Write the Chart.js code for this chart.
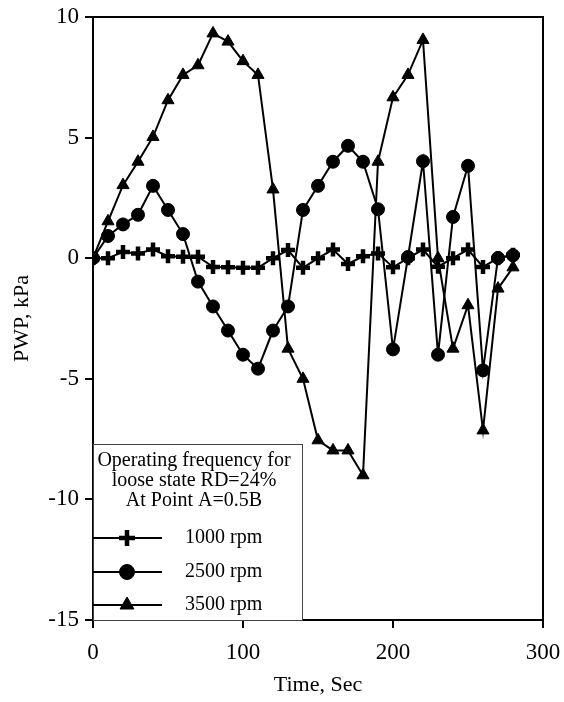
<!DOCTYPE html>
<html>
<head>
<meta charset="utf-8">
<script src="https://cdn.jsdelivr.net/npm/chart.js"></script>
<style>
  html, body { margin: 0; padding: 0; background: #fff; }
  #wrap { width: 564px; height: 702px; }
</style>
</head>
<body>
<div id="wrap"><canvas id="pwpChart" width="564" height="702"></canvas></div>
<script>
// Time, Sec
const times = [0, 10, 20, 30, 40, 50, 60, 70, 80, 90, 100, 110, 120, 130, 140,
               150, 160, 170, 180, 190, 200, 210, 220, 230, 240, 250, 260, 270, 280];

// PWP, kPa
const rpm1000 = [0, 0, 0.26, 0.2, 0.36, 0.08, 0.06, 0.06, -0.36, -0.38, -0.4, -0.4, 0, 0.34, -0.4,
                 0, 0.36, -0.24, 0.08, 0.2, -0.38, 0, 0.36, -0.35, 0, 0.36, -0.36, 0, 0.14];
const rpm2500 = [0, 0.92, 1.4, 1.8, 3.0, 2.0, 1.0, -0.97, -2.0, -3.0, -4.0, -4.58, -3.0, -2.0, 2.0,
                 3.0, 4.0, 4.66, 4.0, 2.03, -3.78, 0.05, 4.02, -4.0, 1.71, 3.83, -4.65, 0.01, 0.12];
const rpm3500 = [0, 1.53, 3.03, 4.0, 5.03, 6.55, 7.6, 8.0, 9.32, 8.98, 8.17, 7.6, 2.85, -3.75, -5.0,
                 -7.55, -7.97, -7.97, -9.0, 4.0, 6.67, 7.6, 9.05, 0, -3.75, -1.95, -7.14, -1.26, -0.38];

const seriesLabels = ['1000 rpm', '2500 rpm', '3500 rpm'];
const legendTitle = ['Operating frequency for', 'loose state RD=24%', 'At Point A=0.5B'];
const xTicks = [0, 100, 200, 300];
const yTicks = [-15, -10, -5, 0, 5, 10];

const serif = '"Liberation Serif", "Times New Roman", serif';

function toPoints(ys) {
    return times.map((t, i) => ({ x: t, y: ys[i] }));
}

function makeSet(label, ys, style, radius, bw) {
    return {
        label: label,
        data: toPoints(ys),
        borderColor: '#000',
        borderWidth: 2,
        backgroundColor: '#000',
        pointStyle: style,
        pointRadius: radius,
        pointBorderWidth: bw,
        pointBackgroundColor: '#000',
        pointBorderColor: '#000',
        tension: 0,
        fill: false
    };
}

// frame on the top and right, plus the boxed legend in the lower left
const framePlugin = {
    id: 'frameAndLegend',
    afterDatasetsDraw(chart) {
        const ctx = chart.ctx;
        const a = chart.chartArea;
        ctx.save();
        ctx.strokeStyle = '#000';
        ctx.lineWidth = 2;
        ctx.beginPath();
        ctx.moveTo(a.left, a.top);
        ctx.lineTo(a.right, a.top);
        ctx.lineTo(a.right, a.bottom);
        ctx.stroke();

        // legend box
        const bx = a.left, by = 444, bw = 209, bh = a.bottom - 444;
        ctx.fillStyle = '#fff';
        ctx.fillRect(bx, by, bw, bh);
        ctx.lineWidth = 1;
        ctx.strokeStyle = '#444';
        ctx.strokeRect(bx + 0.5, by + 0.5, bw, bh);

        ctx.fillStyle = '#000';
        ctx.font = '20px ' + serif;
        ctx.textAlign = 'center';
        ctx.textBaseline = 'middle';
        legendTitle.forEach((line, i) => ctx.fillText(line, bx + 101, 461 + i * 20));

        const rowY = [538, 572, 605];
        chart.data.datasets.forEach((ds, i) => {
            const y = rowY[i];
            ctx.strokeStyle = '#000';
            ctx.lineWidth = 2;
            ctx.beginPath();
            ctx.moveTo(bx, y);
            ctx.lineTo(bx + 69, y);
            ctx.stroke();
            ctx.fillStyle = '#000';
            ctx.lineWidth = ds.pointBorderWidth;
            Chart.helpers.drawPoint(ctx, {
                pointStyle: ds.pointStyle,
                radius: ds.pointRadius + 1,
                rotation: 0,
                borderWidth: ds.pointBorderWidth
            }, bx + 34, y);
            ctx.fillStyle = '#000';
            ctx.textAlign = 'left';
            ctx.fillText(ds.label, bx + 92, y);
        });
        ctx.restore();
    }
};

const ctx = document.getElementById('pwpChart').getContext('2d');
new Chart(ctx, {
    type: 'line',
    data: {
        datasets: [
            makeSet(seriesLabels[0], rpm1000, 'cross', 7, 4.5),
            makeSet(seriesLabels[1], rpm2500, 'circle', 6.5, 1),
            makeSet(seriesLabels[2], rpm3500, 'triangle', 7, 1)
        ]
    },
    options: {
        responsive: false,
        animation: false,
        devicePixelRatio: 1,
        layout: { padding: { top: 17, right: 21, left: 0, bottom: 0 } },
        plugins: {
            legend: { display: false },
            tooltip: { enabled: false }
        },
        scales: {
            x: {
                type: 'linear',
                min: 0,
                max: 300,
                afterFit(scale) {
                    scale.height = 82;
                    scale.paddingLeft = 0;
                    scale.paddingRight = 0;
                },
                afterBuildTicks(scale) { scale.ticks = xTicks.map(v => ({ value: v })); },
                border: { display: true, color: '#000', width: 2 },
                grid: { display: true, drawOnChartArea: false, drawTicks: true, tickLength: 8, color: '#000', lineWidth: 2 },
                ticks: { color: '#000', font: { family: serif, size: 23 }, padding: 11, maxRotation: 0 },
                title: { display: true, text: 'Time, Sec', color: '#000', font: { family: serif, size: 22 }, padding: { top: 0, bottom: 4 } }
            },
            y: {
                type: 'linear',
                min: -15,
                max: 10,
                afterFit(scale) {
                    scale.width = 93;
                    scale.paddingTop = 0;
                    scale.paddingBottom = 0;
                },
                afterBuildTicks(scale) { scale.ticks = yTicks.map(v => ({ value: v })); },
                border: { display: true, color: '#000', width: 2 },
                grid: { display: true, drawOnChartArea: false, drawTicks: true, tickLength: 8, color: '#000', lineWidth: 2 },
                ticks: { color: '#000', font: { family: serif, size: 23 }, padding: 6 },
                title: { display: true, text: 'PWP, kPa', color: '#000', font: { family: serif, size: 22 }, padding: { top: 9, bottom: 0 } }
            }
        }
    },
    plugins: [framePlugin]
});
</script>
</body>
</html>
